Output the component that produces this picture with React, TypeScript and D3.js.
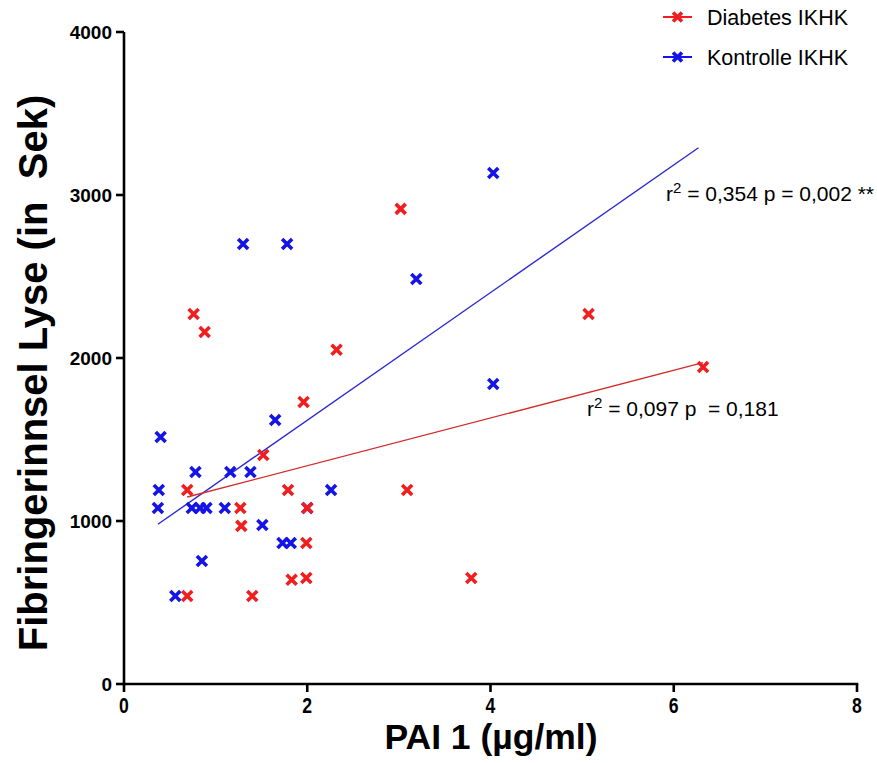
import React from "react";
import * as d3 from "d3";

// PAI 1 (µg/ml) vs. Fibringerinnsel Lyse (Sek)
const diabetesX = [0.69, 0.76, 0.88, 0.69, 1.27, 1.28, 1.40, 1.52, 1.79, 1.83, 1.96, 1.99, 1.99, 2.0, 2.32, 3.02, 3.09, 3.79, 5.07, 6.32];
const diabetesY = [1190, 2270, 2160, 540, 1080, 970, 540, 1405, 1190, 640, 1730, 865, 650, 1080, 2050, 2915, 1190, 650, 2270, 1945];

const kontrolleX = [0.40, 0.78, 1.16, 1.38, 0.38, 2.26, 0.37, 0.74, 0.83, 0.90, 1.10, 2.0, 1.51, 1.73, 1.82, 0.85, 0.56, 1.65, 1.30, 1.78, 3.19, 4.03, 4.03];
const kontrolleY = [1515, 1300, 1300, 1300, 1190, 1190, 1080, 1080, 1080, 1080, 1080, 1080, 975, 865, 865, 755, 540, 1620, 2700, 2700, 2485, 1840, 3135];

// fitted lines: [x0, y0, x1, y1]
const diabetesFit = [0.69, 1147, 6.32, 1972];
const kontrolleFit = [0.37, 980, 6.27, 3290];

const xTicks = [0, 2, 4, 6, 8];
const yTicks = [0, 1000, 2000, 3000, 4000];

const RED = "#f01e1e";
const BLUE = "#1414e6";

const Cross = ({ x, y, color, s = 5 }) => (
  <path
    d={`M${x - s},${y - s}L${x + s},${y + s}M${x - s},${y + s}L${x + s},${y - s}`}
    stroke={color}
    strokeWidth={3.6}
    fill="none"
  />
);

export default function App() {
  const x = d3.scaleLinear().domain([0, 8]).range([124, 857]);
  const y = d3.scaleLinear().domain([0, 4000]).range([684, 32]);
  const line = d3.line<number[]>().x((d) => x(d[0])).y((d) => y(d[1]));

  const font = "'Liberation Sans', Arial, Helvetica, sans-serif";

  return (
    <svg width={877} height={763} style={{ position: "absolute", left: 0, top: 0, background: "#fff" }} fontFamily={font}>
      {/* regression lines */}
      <path d={line([[kontrolleFit[0], kontrolleFit[1]], [kontrolleFit[2], kontrolleFit[3]]])!} stroke="#2a2ad0" strokeWidth={1.4} fill="none" />
      <path d={line([[diabetesFit[0], diabetesFit[1]], [diabetesFit[2], diabetesFit[3]]])!} stroke="#d42a2a" strokeWidth={1.4} fill="none" />

      {kontrolleX.map((d, i) => (
        <Cross key={"k" + i} x={x(d)} y={y(kontrolleY[i])} color={BLUE} />
      ))}
      {diabetesX.map((d, i) => (
        <Cross key={"d" + i} x={x(d)} y={y(diabetesY[i])} color={RED} />
      ))}

      {/* axes */}
      <g stroke="#000" strokeWidth={2.6} fill="none">
        <line x1={x(0)} x2={x(0)} y1={y(0) + 1.3} y2={y(4000)} />
        <line x1={x(0)} x2={x(8) + 1.3} y1={y(0)} y2={y(0)} />
        {yTicks.map((t) => (
          <line key={t} x1={x(0) - 8} x2={x(0)} y1={y(t)} y2={y(t)} />
        ))}
        {xTicks.map((t) => (
          <line key={t} x1={x(t)} x2={x(t)} y1={y(0)} y2={y(0) + 8} />
        ))}
      </g>
      {yTicks.map((t) => (
        <text key={t} x={x(0) - 12} y={y(t)} dy="0.36em" textAnchor="end" fontSize={19} fontWeight="bold">
          {t}
        </text>
      ))}
      {xTicks.map((t) => (
        <text
          key={t}
          transform={`translate(${x(t)},${y(0) + 29}) scale(0.8,1)`}
          textAnchor="middle"
          fontSize={22}
          fontWeight="bold"
        >
          {t}
        </text>
      ))}

      {/* axis titles */}
      <text x={491} y={749} textAnchor="middle" fontSize={35.5} fontWeight="bold">
        PAI 1 (µg/ml)
      </text>
      <text
        transform={`translate(47,${y(2000) + 15}) rotate(-90)`}
        textAnchor="middle"
        fontSize={40}
        fontWeight="bold"
        style={{ whiteSpace: "pre" }}
      >
        Fibringerinnsel Lyse (in  Sek)
      </text>

      {/* stats */}
      <text x={666} y={201} fontSize={21}>
        r<tspan dy={-8} fontSize={15}>2</tspan>
        <tspan dy={8}>{" = 0,354 p = 0,002 **"}</tspan>
      </text>
      <text x={587} y={416} fontSize={21} style={{ whiteSpace: "pre" }}>
        r<tspan dy={-8} fontSize={15}>2</tspan>
        <tspan dy={8}>{" = 0,097 p  = 0,181"}</tspan>
      </text>

      {/* legend */}
      {[
        { label: "Diabetes IKHK", color: RED, cy: 17 },
        { label: "Kontrolle IKHK", color: BLUE, cy: 57 },
      ].map((l) => (
        <g key={l.label}>
          <line x1={663} x2={692} y1={l.cy} y2={l.cy} stroke={l.color} strokeWidth={2} />
          <Cross x={677.5} y={l.cy} color={l.color} s={4.5} />
          <text x={707} y={l.cy} dy="0.36em" fontSize={21.5}>
            {l.label}
          </text>
        </g>
      ))}
    </svg>
  );
}
